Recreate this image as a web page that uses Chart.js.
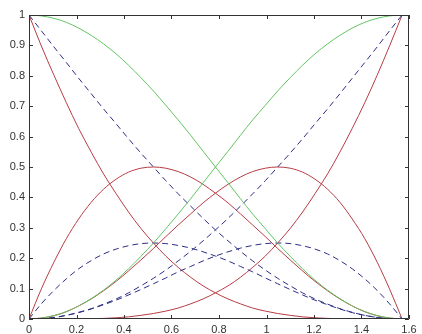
<!DOCTYPE html>
<html>
<head>
<meta charset="utf-8">
<script src="https://cdn.jsdelivr.net/npm/chart.js@4.4.1/dist/chart.umd.min.js"></script>
<style>
  html, body { margin: 0; padding: 0; background: #fff; }
  #c { display: block; }
</style>
</head>
<body>
<canvas id="c" width="422" height="334"></canvas>
<script>
// x positions (rad), 3 degree steps from 0 to pi/2
const xs = [0, 0.052, 0.105, 0.157, 0.209, 0.262, 0.314, 0.367, 0.419, 0.471, 0.524,
  0.576, 0.628, 0.681, 0.733, 0.785, 0.838, 0.890, 0.942, 0.995, 1.047,
  1.100, 1.152, 1.204, 1.257, 1.309, 1.361, 1.414, 1.466, 1.518, 1.571];

// green solid
const greenDown = [1, 0.997, 0.989, 0.976, 0.957, 0.933, 0.905, 0.872, 0.835, 0.794, 0.75,
  0.703, 0.655, 0.604, 0.552, 0.5, 0.448, 0.396, 0.345, 0.297, 0.25,
  0.206, 0.165, 0.128, 0.095, 0.067, 0.043, 0.024, 0.011, 0.003, 0];
const greenUp = [0, 0.003, 0.011, 0.024, 0.043, 0.067, 0.095, 0.128, 0.165, 0.206, 0.25,
  0.297, 0.345, 0.396, 0.448, 0.5, 0.552, 0.604, 0.655, 0.703, 0.75,
  0.794, 0.835, 0.872, 0.905, 0.933, 0.957, 0.976, 0.989, 0.997, 1];

// red solid
const redDown = [1, 0.898, 0.802, 0.712, 0.627, 0.549, 0.477, 0.412, 0.352, 0.298, 0.25,
  0.207, 0.170, 0.137, 0.109, 0.086, 0.066, 0.050, 0.036, 0.026, 0.018,
  0.012, 0.007, 0.004, 0.002, 0.001, 0, 0, 0, 0, 0];
const redUp = [0, 0, 0, 0, 0, 0.001, 0.002, 0.004, 0.007, 0.012, 0.018,
  0.026, 0.036, 0.050, 0.066, 0.086, 0.109, 0.137, 0.170, 0.207, 0.25,
  0.298, 0.352, 0.412, 0.477, 0.549, 0.627, 0.712, 0.802, 0.898, 1];
const redHumpL = [0, 0.099, 0.187, 0.264, 0.329, 0.384, 0.427, 0.460, 0.483, 0.496, 0.5,
  0.496, 0.485, 0.467, 0.443, 0.414, 0.382, 0.346, 0.309, 0.271, 0.232,
  0.194, 0.158, 0.124, 0.093, 0.066, 0.043, 0.024, 0.011, 0.003, 0];
const redHumpR = [0, 0.003, 0.011, 0.024, 0.043, 0.066, 0.093, 0.124, 0.158, 0.194, 0.232,
  0.271, 0.309, 0.346, 0.382, 0.414, 0.443, 0.467, 0.485, 0.496, 0.5,
  0.496, 0.483, 0.460, 0.427, 0.384, 0.329, 0.264, 0.187, 0.099, 0];

// blue dashed
const blueDown = [1, 0.948, 0.895, 0.844, 0.792, 0.741, 0.691, 0.642, 0.593, 0.546, 0.5,
  0.455, 0.412, 0.371, 0.331, 0.293, 0.257, 0.223, 0.191, 0.161, 0.134,
  0.109, 0.086, 0.066, 0.049, 0.034, 0.022, 0.012, 0.005, 0.001, 0];
const blueUp = [0, 0.001, 0.005, 0.012, 0.022, 0.034, 0.049, 0.066, 0.086, 0.109, 0.134,
  0.161, 0.191, 0.223, 0.257, 0.293, 0.331, 0.371, 0.412, 0.455, 0.5,
  0.546, 0.593, 0.642, 0.691, 0.741, 0.792, 0.844, 0.895, 0.948, 1];
const blueHumpL = [0, 0.050, 0.094, 0.132, 0.165, 0.192, 0.214, 0.230, 0.241, 0.248, 0.25,
  0.248, 0.242, 0.233, 0.221, 0.207, 0.191, 0.173, 0.155, 0.135, 0.116,
  0.097, 0.079, 0.062, 0.047, 0.033, 0.021, 0.012, 0.005, 0.001, 0];
const blueHumpR = [0, 0.001, 0.005, 0.012, 0.021, 0.033, 0.047, 0.062, 0.079, 0.097, 0.116,
  0.135, 0.155, 0.173, 0.191, 0.207, 0.221, 0.233, 0.242, 0.248, 0.25,
  0.248, 0.241, 0.230, 0.214, 0.192, 0.165, 0.132, 0.094, 0.050, 0];

const GREEN = "#62c462";
const RED = "#b83c44";
const BLUE = "#2c2e84";

const pts = ys => xs.map((x, i) => ({ x, y: ys[i] }));
const line = (ys, color, dashed) => ({
  data: pts(ys),
  borderColor: color,
  borderWidth: 1,
  borderDash: dashed ? [6, 4] : [],
  pointRadius: 0,
  fill: false,
  cubicInterpolationMode: 'monotone'
});

// box + inward ticks, MATLAB style
const boxTicks = {
  id: 'boxTicks',
  afterDraw(chart) {
    const { ctx, chartArea: a, scales: { x, y } } = chart;
    ctx.save();
    ctx.strokeStyle = "#333";
    ctx.lineWidth = 1;
    ctx.beginPath();
    ctx.rect(a.left + 0.5, a.top + 0.5, a.right - a.left - 1, a.bottom - a.top - 1);
    const len = 4;
    x.ticks.forEach(t => {
      const px = Math.round(x.getPixelForValue(t.value)) + 0.5;
      ctx.moveTo(px, a.bottom); ctx.lineTo(px, a.bottom - len);
      ctx.moveTo(px, a.top); ctx.lineTo(px, a.top + len);
    });
    y.ticks.forEach(t => {
      const py = Math.round(y.getPixelForValue(t.value)) + 0.5;
      ctx.moveTo(a.left, py); ctx.lineTo(a.left + len, py);
      ctx.moveTo(a.right, py); ctx.lineTo(a.right - len, py);
    });
    ctx.stroke();
    ctx.restore();
  }
};

const fmt = v => String(Number(v.toFixed(1)));

new Chart(document.getElementById('c'), {
  type: 'line',
  data: {
    datasets: [
      line(greenDown, GREEN), line(greenUp, GREEN),
      line(blueDown, BLUE, true), line(blueUp, BLUE, true),
      line(blueHumpL, BLUE, true), line(blueHumpR, BLUE, true),
      line(redDown, RED), line(redUp, RED),
      line(redHumpL, RED), line(redHumpR, RED)
    ]
  },
  options: {
    responsive: false,
    animation: false,
    layout: { padding: { top: 15, right: 13, left: 0, bottom: 0 } },
    plugins: { legend: { display: false }, tooltip: { enabled: false } },
    scales: {
      x: {
        type: 'linear', min: 0, max: 1.6,
        grid: { display: false, drawTicks: false },
        border: { display: false },
        ticks: { stepSize: 0.2, padding: 4, maxRotation: 0, color: "#333",
          font: { family: "Liberation Sans, Arial, sans-serif", size: 11 }, callback: fmt },
        afterFit(s) { s.height = 15; }
      },
      y: {
        min: 0, max: 1,
        grid: { display: false, drawTicks: false },
        border: { display: false },
        ticks: { stepSize: 0.1, padding: 4, color: "#333",
          font: { family: "Liberation Sans, Arial, sans-serif", size: 11 }, callback: fmt },
        afterFit(s) { s.width = 29; }
      }
    }
  },
  plugins: [boxTicks]
});
</script>
</body>
</html>
